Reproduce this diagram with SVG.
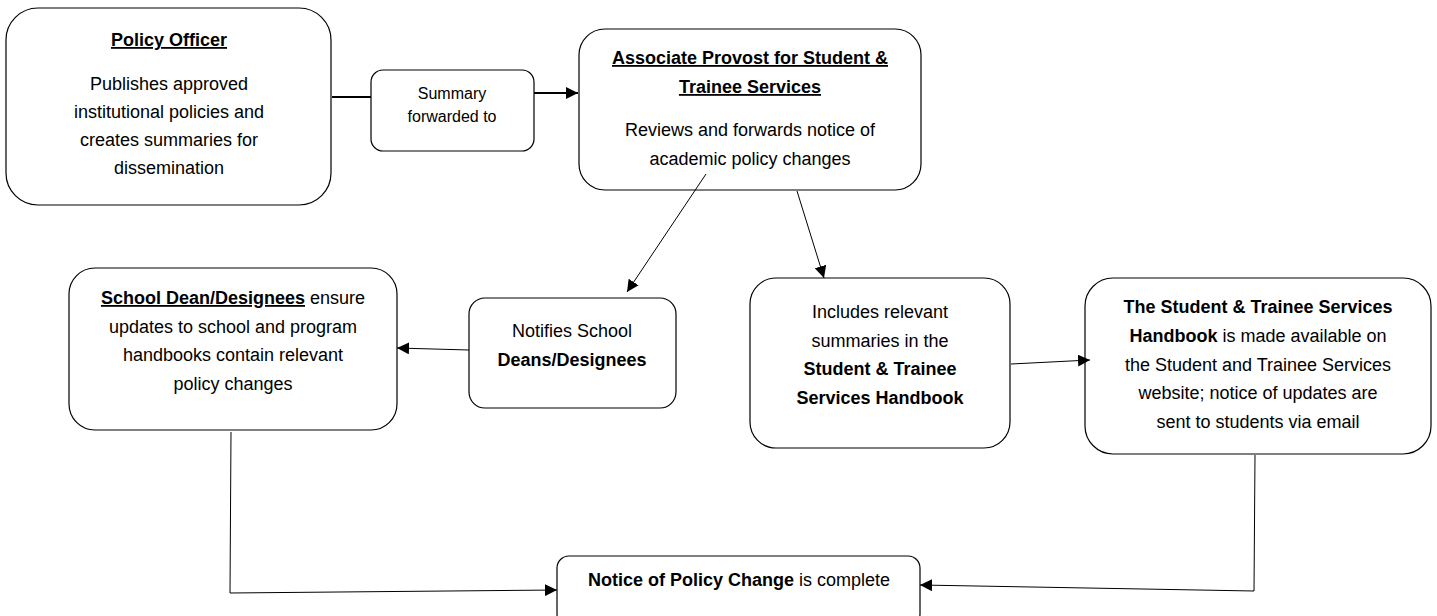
<svg xmlns="http://www.w3.org/2000/svg" width="1437" height="616" viewBox="0 0 1437 616">
<style>
.box{fill:#fff;stroke:#000;stroke-width:1.2}
text{font-family:"Liberation Sans",Arial,sans-serif;font-size:18px;fill:#000;text-anchor:middle}
.b{font-weight:bold}
.u{text-decoration:underline}
.s{font-size:16px}
.c{fill:none;stroke:#000;stroke-width:1}
.thick{stroke-width:2}
</style>
<defs>
<marker id="ah" viewBox="0 0 10 10" refX="10" refY="5" markerWidth="12" markerHeight="12" markerUnits="userSpaceOnUse" orient="auto">
<path d="M0,0 L10,5 L0,10 z" fill="#000"/>
</marker>
</defs>
<rect width="1437" height="616" fill="#fff"/>
<g id="policy-officer">
<rect class="box" x="6" y="8" width="325" height="197" rx="32"/>
<text x="169" y="46" class="b u">Policy Officer</text>
<text x="169" y="90">Publishes approved</text>
<text x="169" y="118">institutional policies and</text>
<text x="169" y="146">creates summaries for</text>
<text x="169" y="174">dissemination</text>
</g>
<g id="summary">
<rect class="box" x="371" y="70" width="163" height="81" rx="12"/>
<text x="452" y="99" class="s">Summary</text>
<text x="452" y="122" class="s">forwarded to</text>
</g>
<g id="associate-provost">
<rect class="box" x="579" y="29" width="342" height="161" rx="26"/>
<text x="750" y="64" class="b u">Associate Provost for Student &amp;</text>
<text x="750" y="93" class="b u">Trainee Services</text>
<text x="750" y="136">Reviews and forwards notice of</text>
<text x="750" y="165">academic policy changes</text>
</g>
<g id="school-dean">
<rect class="box" x="69" y="268" width="328" height="162" rx="26"/>
<text x="233" y="304"><tspan class="b u">School Dean/Designees</tspan> ensure</text>
<text x="233" y="333">updates to school and program</text>
<text x="233" y="361">handbooks contain relevant</text>
<text x="233" y="390">policy changes</text>
</g>
<g id="notifies">
<rect class="box" x="469" y="298" width="207" height="110" rx="16"/>
<text x="572" y="337">Notifies School</text>
<text x="572" y="366" class="b">Deans/Designees</text>
</g>
<g id="includes">
<rect class="box" x="750" y="278" width="260" height="170" rx="26"/>
<text x="880" y="318">Includes relevant</text>
<text x="880" y="347">summaries in the</text>
<text x="880" y="375" class="b">Student &amp; Trainee</text>
<text x="880" y="404" class="b">Services Handbook</text>
</g>
<g id="handbook">
<rect class="box" x="1085" y="278" width="346" height="176" rx="28"/>
<text x="1258" y="313" class="b">The Student &amp; Trainee Services</text>
<text x="1258" y="342"><tspan class="b">Handbook</tspan> is made available on</text>
<text x="1258" y="371">the Student and Trainee Services</text>
<text x="1258" y="399">website; notice of updates are</text>
<text x="1258" y="428">sent to students via email</text>
</g>
<g id="notice-complete">
<rect class="box" x="557" y="556" width="363" height="70" rx="12"/>
<text x="739" y="586"><tspan class="b">Notice of Policy Change</tspan> is complete</text>
</g>
<g id="connectors">
<line class="c thick" x1="332" y1="97" x2="371" y2="97"/>
<line class="c thick" x1="534" y1="93" x2="578" y2="93" marker-end="url(#ah)"/>
<line class="c" x1="706" y1="174" x2="627" y2="292" marker-end="url(#ah)"/>
<line class="c" x1="797" y1="191" x2="824" y2="278" marker-end="url(#ah)"/>
<line class="c" x1="469" y1="350" x2="397" y2="348" marker-end="url(#ah)"/>
<line class="c" x1="1011" y1="364" x2="1090" y2="360" marker-end="url(#ah)"/>
<polyline class="c" points="231,432 230,593 557,590" marker-end="url(#ah)"/>
<polyline class="c" points="1255,455 1254,591 920,585" marker-end="url(#ah)"/>
</g>
</svg>
